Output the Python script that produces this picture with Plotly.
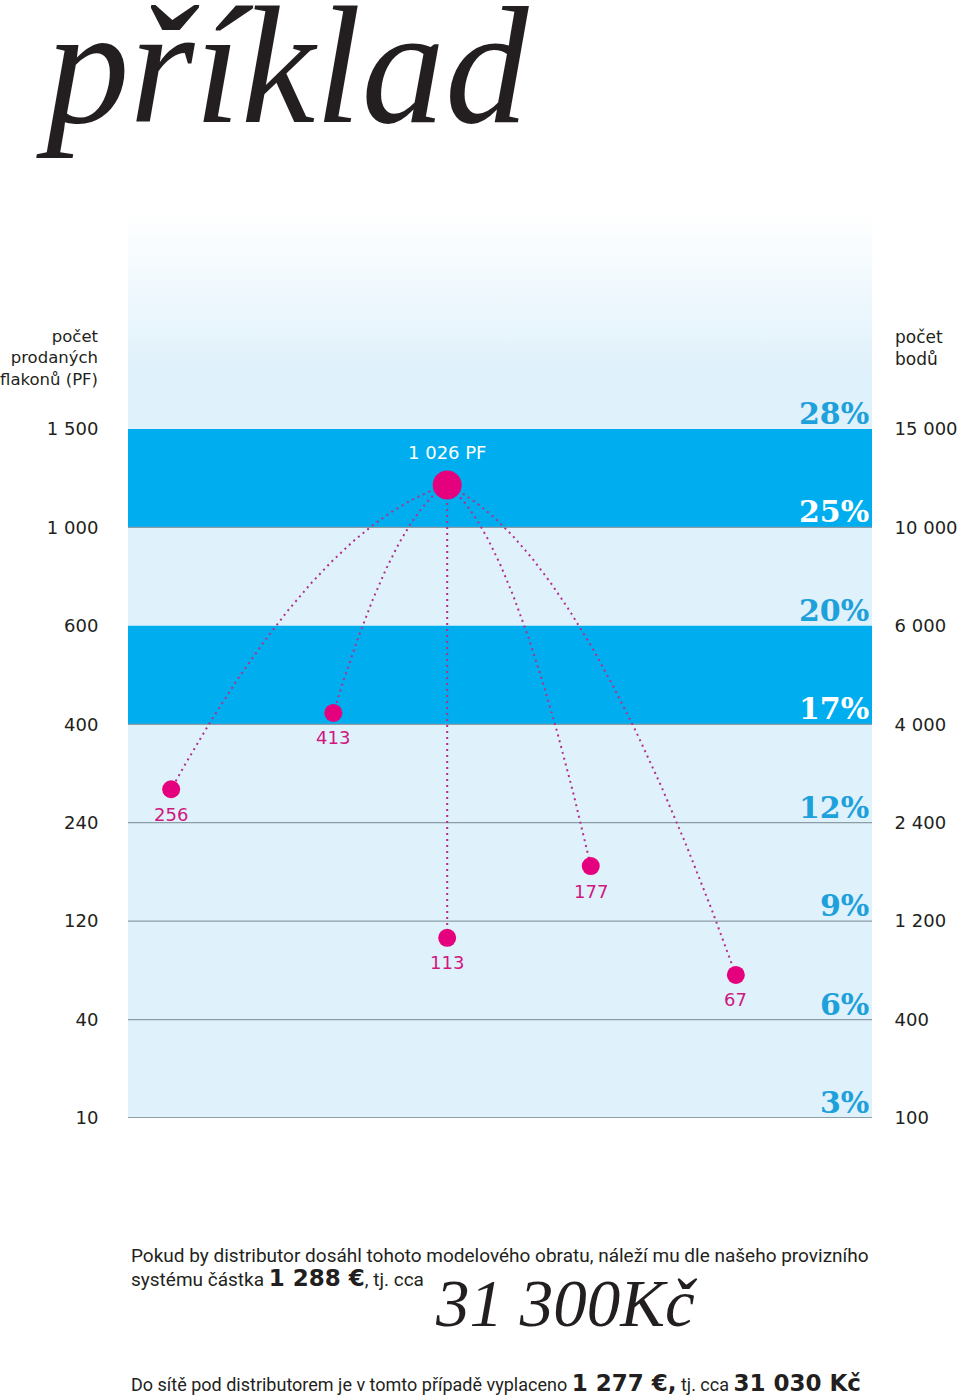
import numpy as np
import plotly.graph_objects as go

# ---------------- data ----------------
pf_tick_labels = ["10", "40", "120", "240", "400", "600", "1 000", "1 500"]
point_tick_labels = ["100", "400", "1 200", "2 400", "4 000", "6 000", "10 000", "15 000"]
commission_labels = ["3%", "6%", "9%", "12%", "17%", "20%", "25%", "28%"]
highlight_bands = [(4, 5), (6, 7)]          # tier intervals shown in strong blue

root_label = "1 026 PF"
root_x = 42.9                               # horizontal position (0-100)
root_level = 6.43                           # position on the tier scale

child_labels = ["256", "413", "113", "177", "67"]
child_x = [5.8, 27.6, 42.9, 62.2, 81.7]
child_level = [3.34, 4.115, 1.83, 2.56, 1.453]

title_text = "příklad"
left_title = "počet<br>prodaných<br>flakonů (PF)"
right_title = "počet<br>bodů"
BOLD = "<b><span style='font-family:DejaVu Sans;font-size:23px'>{}</span></b>"
line1 = "Pokud by distributor dosáhl tohoto modelového obratu, náleží mu dle našeho provizního"
line2 = "systému částka " + BOLD.format("1 288 €") + ", tj. cca"
big_amount = "31 300Kč"
line3 = ("Do sítě pod distributorem je v tomto případě vyplaceno "
         + BOLD.format("1 277 €,") + " tj. cca " + BOLD.format("31 030 Kč"))

# ---------------- styling ----------------
W, H = 960, 1399
L, R, T, B = 128, 88, 213, 281
LEVEL_PX = 98.43
YMAX = (H - T - B) / LEVEL_PX
FLAT_TOP = 7.58
LIGHT = "#dff1fb"
BAND = "#00aeef"
MAGENTA = "#e5007d"
LABEL_MAG = "#d0177f"
PCT_BLUE = "#1ea0db"
DARK = "#231f20"
GRID = "#8d9da7"
SANS = "DejaVu Sans"


def px_x(p):
    return (p - L) / (W - L - R)


def px_y(p):
    return (H - B - p) / (H - T - B)


fig = go.Figure()

# gradient top of background
fig.add_trace(go.Scatter(
    x=[0, 100, 100, 0, 0], y=[FLAT_TOP, FLAT_TOP, YMAX, YMAX, FLAT_TOP],
    mode="lines", fill="toself", line=dict(width=0),
    fillgradient=dict(type="vertical", colorscale=[[0, LIGHT], [1, "#ffffff"]]),
    hoverinfo="skip", showlegend=False))

# dotted curves from root to each child (quadratic bezier)
t = np.linspace(0, 1, 120)
for cx, cy in zip(child_x, child_level):
    dx, dy = cx - root_x, cy - root_level
    kx, ky = root_x + 0.47 * dx, root_level + 0.13 * dy
    bx = (1 - t) ** 2 * root_x + 2 * t * (1 - t) * kx + t ** 2 * cx
    by = (1 - t) ** 2 * root_level + 2 * t * (1 - t) * ky + t ** 2 * cy
    fig.add_trace(go.Scatter(x=bx, y=by, mode="lines",
                             line=dict(color="#b42f8a", width=2, dash="2px,4px"),
                             hoverinfo="skip", showlegend=False))

# dots
fig.add_trace(go.Scatter(
    x=child_x + [root_x], y=child_level + [root_level], mode="markers",
    marker=dict(size=[18] * len(child_x) + [29], color=MAGENTA, opacity=1,
                line=dict(width=0)),
    hoverinfo="skip", showlegend=False))

# dummy trace for right axis
fig.add_trace(go.Scatter(x=[None], y=[None], yaxis="y2", showlegend=False))

shapes = [dict(type="rect", xref="x", yref="y", x0=0, x1=100, y0=0, y1=FLAT_TOP,
               fillcolor=LIGHT, line=dict(width=0), layer="below")]
band_tops = []
for b0, b1 in highlight_bands:
    shapes.append(dict(type="rect", xref="x", yref="y", x0=0, x1=100, y0=b0, y1=b1,
                       fillcolor=BAND, line=dict(width=0), layer="below"))
    band_tops.append(b1)
for k in range(len(pf_tick_labels)):
    if k in band_tops:
        continue
    shapes.append(dict(type="line", xref="x", yref="y", x0=0, x1=100, y0=k, y1=k,
                       line=dict(color=GRID, width=2 if k == 0 else 1.3), layer="below"))

ann = []
# percentages
for k, lab in enumerate(commission_labels):
    inside = any(b0 <= k < b1 for b0, b1 in highlight_bands)
    ann.append(dict(x=px_x(871), xref="paper", y=k, yref="y", xanchor="right", yanchor="bottom",
                    yshift=-4, text=lab, showarrow=False,
                    font=dict(family="DejaVu Serif", size=30, color="#ffffff" if inside else PCT_BLUE,
                              weight="bold")))
# point labels
for cx, cy, lab in zip(child_x, child_level, child_labels):
    ann.append(dict(x=cx, y=cy, xref="x", yref="y", yshift=-25, text=lab, showarrow=False,
                    yanchor="middle", font=dict(family=SANS, size=18, color=LABEL_MAG)))
ann.append(dict(x=root_x, y=root_level, xref="x", yref="y", yshift=33, text=root_label,
                showarrow=False, yanchor="middle", font=dict(family=SANS, size=18, color="#ffffff")))
# axis titles
ann.append(dict(x=px_x(101), y=px_y(358), xref="paper", yref="paper", xanchor="right",
                yanchor="middle", align="right", text=left_title, showarrow=False,
                font=dict(family=SANS, size=16.5, color=DARK)))
ann.append(dict(x=px_x(893), y=px_y(348), xref="paper", yref="paper", xanchor="left",
                yanchor="middle", align="left", text=right_title, showarrow=False,
                font=dict(family=SANS, size=17, color=DARK)))
# title
ann.append(dict(x=px_x(34), y=px_y(65), xref="paper", yref="paper", xanchor="left",
                yanchor="middle", text=title_text, showarrow=False,
                font=dict(family="Liberation Serif", size=167, color=DARK, style="italic")))
# bottom texts
ann.append(dict(x=px_x(129), y=px_y(1255), xref="paper", yref="paper", xanchor="left",
                yanchor="middle", text=line1, showarrow=False,
                font=dict(family="Roboto", size=19, color=DARK)))
ann.append(dict(x=px_x(129), y=px_y(1278), xref="paper", yref="paper", xanchor="left",
                yanchor="middle", text=line2, showarrow=False,
                font=dict(family="Roboto", size=19, color=DARK)))
ann.append(dict(x=px_x(433), y=px_y(1303), xref="paper", yref="paper", xanchor="left",
                yanchor="middle", text=big_amount, showarrow=False,
                font=dict(family="Liberation Serif", size=67, color=DARK, style="italic")))
ann.append(dict(x=px_x(129), y=px_y(1383), xref="paper", yref="paper", xanchor="left",
                yanchor="middle", text=line3, showarrow=False,
                font=dict(family="Roboto", size=18, color=DARK)))

axis_common = dict(range=[0, YMAX], tickvals=list(range(len(pf_tick_labels))),
                   showgrid=False, zeroline=False, showline=False, ticks="outside",
                   tickcolor="rgba(0,0,0,0)", fixedrange=True, automargin=False,
                   tickfont=dict(family=SANS, size=18, color=DARK))

fig.update_layout(
    width=W, height=H, margin=dict(l=L, r=R, t=T, b=B, autoexpand=False),
    paper_bgcolor="white", plot_bgcolor="white", showlegend=False,
    xaxis=dict(range=[0, 100], visible=False, fixedrange=True, automargin=False),
    yaxis=dict(**axis_common, ticktext=pf_tick_labels, ticklen=25),
    yaxis2=dict(**axis_common, ticktext=point_tick_labels, ticklen=18,
                overlaying="y", side="right"),
    shapes=shapes, annotations=ann,
)

fig.write_html("out.html", config={"displayModeBar": False},
               post_script="document.body.style.margin='0';document.body.style.overflow='hidden';")
